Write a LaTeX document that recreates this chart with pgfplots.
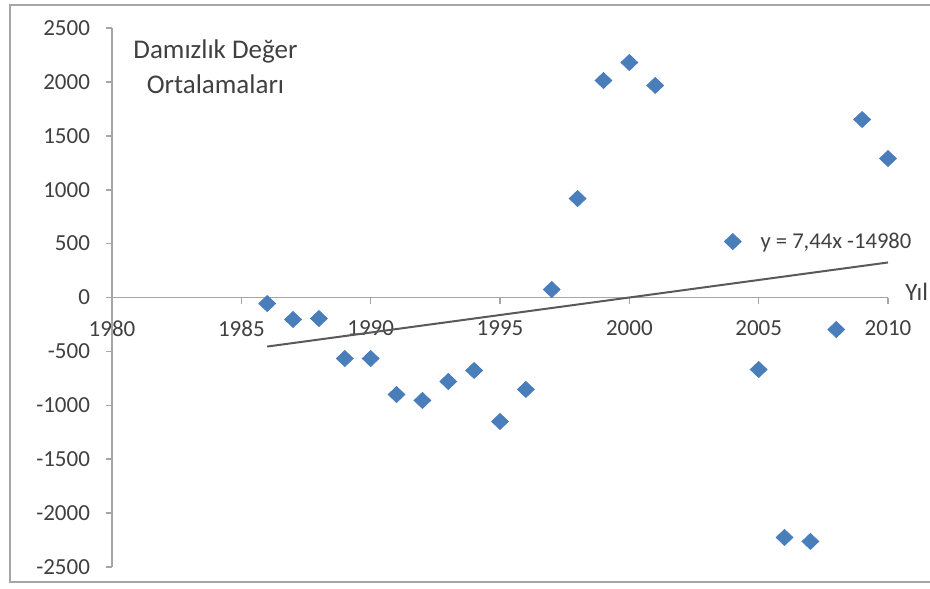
\documentclass[border=0pt]{standalone}
\usepackage{pgfplots}
\pgfplotsset{compat=1.18}
\usepackage{fontspec}
\setmainfont{Carlito}
\definecolor{ptblue}{HTML}{4A7EBB}
\definecolor{txtgray}{HTML}{404040}
\definecolor{axgray}{HTML}{A6A6A6}
\begin{document}
\begin{tikzpicture}
\useasboundingbox (0,0) rectangle (465pt,294pt);
\begin{axis}[
  at={(56pt,10.5pt)}, anchor=south west,
  scale only axis, width=388pt, height=269.5pt,
  xmin=1980, xmax=2010, ymin=-2500, ymax=2500,
  axis x line=middle, axis y line=left,
  axis line style={axgray, line width=0.8pt, -},
  xtick={1980,1985,...,2010}, ytick={-2500,-2000,...,2500},
  tick style={axgray, line width=0.8pt},
  major tick length=3pt,
  tick align=outside,
  hide obscured x ticks=false,
  hide obscured y ticks=false,
  x tick label style={yshift=-5pt},
  y tick label style={xshift=-4.5pt},
  tick label style={font=\fontsize{11.5}{13}\selectfont, text=txtgray},
  /pgf/number format/assume math mode=true,
  /pgf/number format/1000 sep={},
  clip=false,
]
\addplot[only marks, mark=diamond*, mark size=4pt, mark options={fill=ptblue, draw=ptblue, xscale=1.4, yscale=1.0}]
coordinates {
(1986,-56) (1987,-204) (1988,-195) (1989,-566) (1990,-566)
(1991,-900) (1992,-955) (1993,-779) (1994,-677) (1995,-1150)
(1996,-853) (1997,74) (1998,918) (1999,2013) (2000,2180)
(2001,1967) (2004,519) (2005,-668) (2006,-2226) (2007,-2263)
(2008,-297) (2009,1651) (2010,1289)
};
\addplot[black!65, line width=1pt] coordinates {(1986,-455) (2010,325)};
\node[anchor=west, font=\fontsize{11.3}{13}\selectfont, text=txtgray] at (axis cs:2004.8,510) {y = 7,44x -14980};
\node[anchor=west, inner sep=0pt, font=\fontsize{12.5}{14}\selectfont, text=txtgray] at (axis cs:2010.66,50) {Yıl};
\node[align=center, font=\fontsize{13.5}{17.5}\selectfont, text=txtgray] at (axis cs:1984,2145) {Damızlık Değer\\Ortalamaları};
\end{axis}
\draw[gray!70, line width=0.9pt] (5pt,3pt) rectangle (475pt,291.5pt);
\end{tikzpicture}
\end{document}
